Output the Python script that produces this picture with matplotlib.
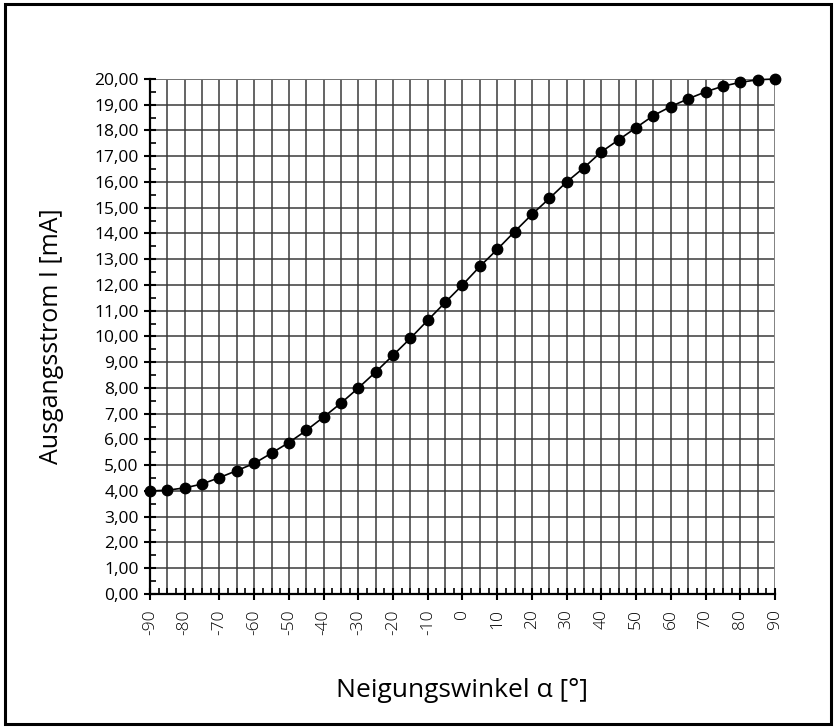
import numpy as np
import matplotlib.pyplot as plt
from matplotlib.patches import Rectangle

plt.rcParams['font.family'] = ['Open Sans', 'DejaVu Sans']

# angle in degrees
angles = [-90, -85, -80, -75, -70, -65, -60, -55, -50, -45, -40, -35, -30,
          -25, -20, -15, -10, -5, 0, 5, 10, 15, 20, 25, 30, 35, 40, 45, 50,
          55, 60, 65, 70, 75, 80, 85, 90]
# output current in mA
current = [4.00, 4.03, 4.12, 4.27, 4.52, 4.79, 5.07, 5.47, 5.88, 6.35,
           6.87, 7.41, 8.00, 8.62, 9.27, 9.93, 10.63, 11.32, 12.00, 12.72,
           13.38, 14.07, 14.74, 15.36, 16.00, 16.56, 17.17, 17.64, 18.11,
           18.58, 18.93, 19.23, 19.50, 19.72, 19.87, 19.97, 20.00]

x_ticks = np.arange(-90, 91, 10)
y_ticks = np.arange(0, 21, 1)

fig = plt.figure(figsize=(8.36, 7.28), dpi=100)
ax = fig.add_axes([0.1794, 0.1841, 0.7476, 0.7074])

ax.plot(angles, current, color='black', lw=1.2, marker='o', ms=7.5, zorder=3,
        clip_on=False)

ax.set_xlim(-90, 90)
ax.set_ylim(0, 20)
ax.set_xticks(x_ticks)
ax.set_xticks(np.arange(-90, 91, 2.5), minor=True)
ax.set_yticks(y_ticks)
ax.set_yticks(np.arange(0, 20.01, 0.5), minor=True)
ax.set_xticklabels([str(v) for v in x_ticks], rotation=90, fontsize=12.5,
                   fontweight='light')
ax.set_yticklabels([f"{v:.2f}".replace('.', ',') for v in y_ticks], fontsize=12.5)

# grid: every 5 degrees and every 1 mA
for xv in np.arange(-85, 91, 5):
    ax.axvline(xv, color='#3a3a3a', lw=1.1, zorder=1)
for yv in y_ticks[1:]:
    ax.axhline(yv, color='#3a3a3a', lw=1.1, zorder=1)
ax.axvline(90, color='#888888', lw=1.3, zorder=1)
ax.axhline(20, color='#777777', lw=1.3, zorder=1)

for s in ['top', 'right']:
    ax.spines[s].set_visible(False)
ax.spines['left'].set_linewidth(1.6)
ax.spines['bottom'].set_linewidth(1.6)
ax.tick_params(which='major', direction='inout', length=8, width=1.5, pad=4)
ax.tick_params(axis='x', which='major', pad=7)
ax.tick_params(which='minor', direction='in', length=4, width=1.2)

ax.set_xlabel('Neigungswinkel α [°]', fontsize=19, labelpad=31)
ax.set_ylabel('Ausgangsstrom I [mA]', fontsize=18, labelpad=22)

fig.patches.append(Rectangle((0.006, 0.006), 0.988, 0.988, transform=fig.transFigure,
                             fill=False, lw=2.2, edgecolor='black'))

fig.savefig('out.png', dpi=100)
